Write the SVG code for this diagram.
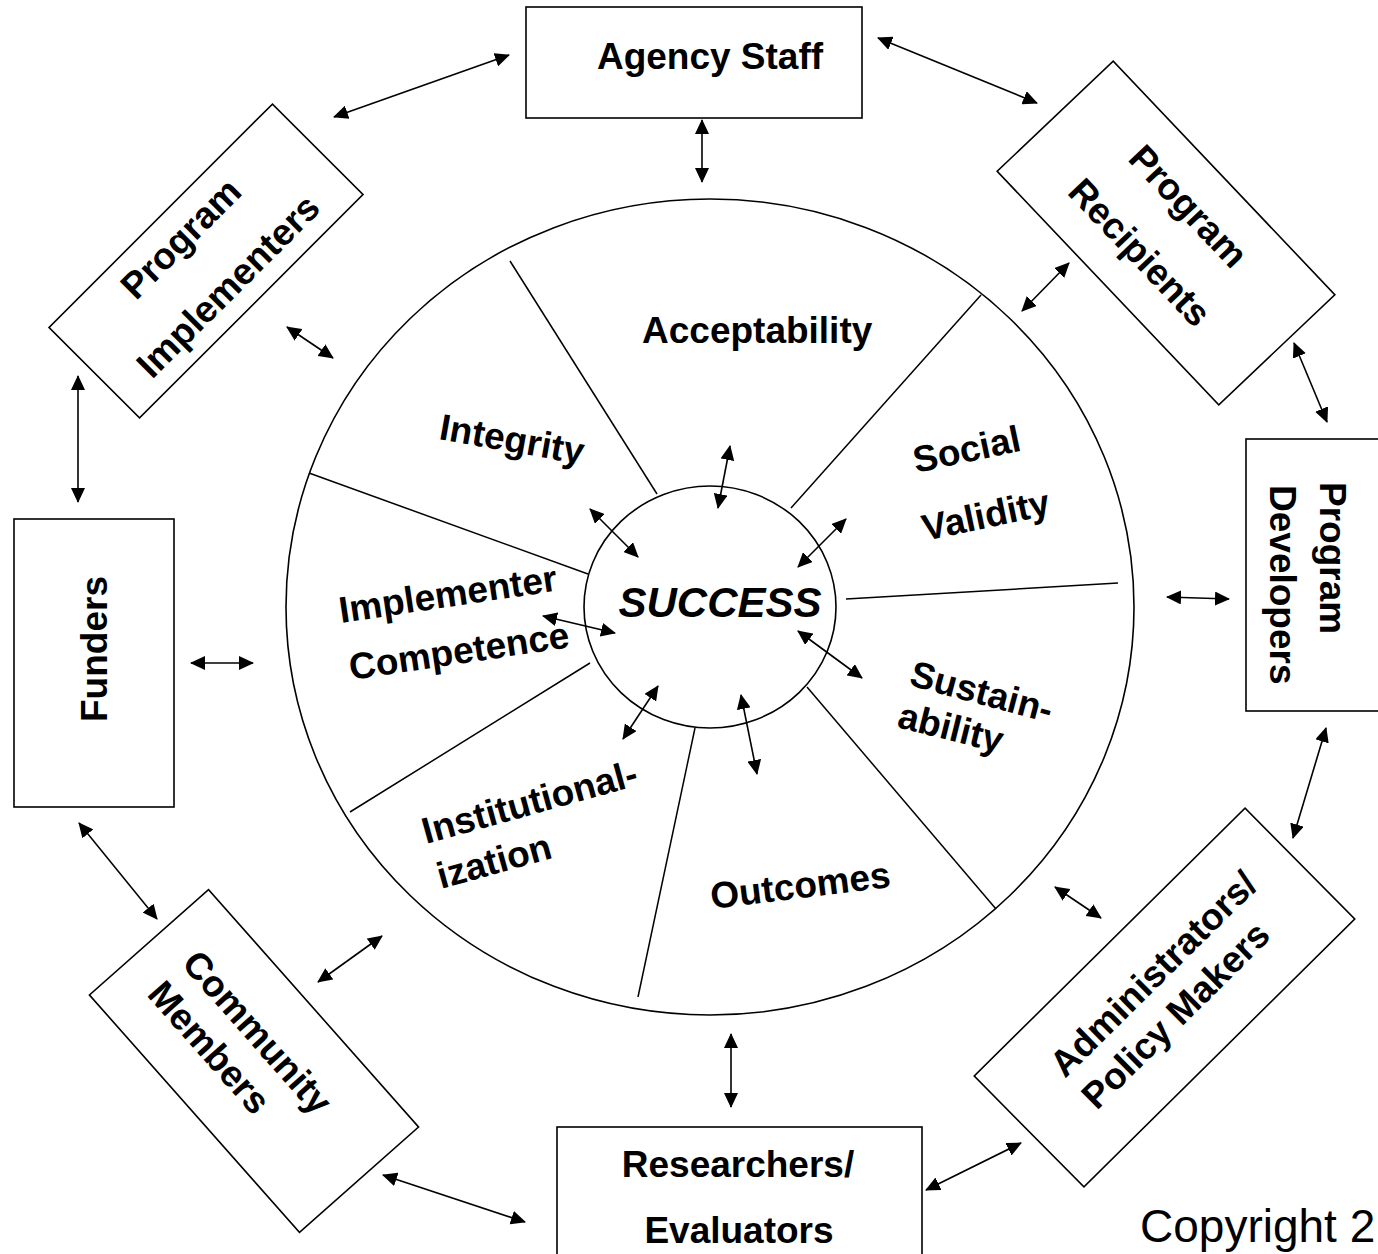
<svg xmlns="http://www.w3.org/2000/svg" width="1378" height="1254" viewBox="0 0 1378 1254">
<style>
.box{fill:#fff;stroke:#000;stroke-width:1.6}
.t{font-family:"Liberation Sans",Arial,sans-serif;font-weight:bold;font-size:37px;fill:#000}
.s{font-family:"Liberation Sans",Arial,sans-serif;font-weight:bold;font-size:37px;fill:#000}
.ring{fill:none;stroke:#000;stroke-width:1.6}
.spoke{stroke:#000;stroke-width:1.5}
.arr{stroke:#000;stroke-width:1.6;fill:none;marker-start:url(#ah);marker-end:url(#ah)}
</style>
<defs>
<marker id="ah" viewBox="0 0 15 14" refX="14" refY="7" markerWidth="15" markerHeight="14" markerUnits="userSpaceOnUse" orient="auto-start-reverse"><path d="M0,0 L15,7 L0,14 z" fill="#000"/></marker>
</defs>
<rect width="1378" height="1254" fill="#fff"/>

<g id="wheel">
<ellipse class="ring" cx="710" cy="607" rx="424" ry="408"/>
<line class="spoke" x1="510" y1="261" x2="657" y2="494"/>
<line class="spoke" x1="981" y1="295" x2="791" y2="508"/>
<line class="spoke" x1="846" y1="599" x2="1118" y2="583"/>
<line class="spoke" x1="807" y1="687" x2="996" y2="909"/>
<line class="spoke" x1="695" y1="728" x2="638" y2="997"/>
<line class="spoke" x1="590" y1="663" x2="350" y2="812"/>
<line class="spoke" x1="309" y1="473" x2="588" y2="574"/>
<text class="s" x="642" y="343">Acceptability</text>
<text class="s" transform="translate(438,439) rotate(10)">Integrity</text>
<text class="s" transform="translate(341,623) rotate(-8.5)">Implementer</text>
<text class="s" transform="translate(351,680) rotate(-8.5)">Competence</text>
<text class="s" transform="translate(426,844) rotate(-15.5)">Institutional-</text>
<text class="s" transform="translate(441,889) rotate(-15.5)">ization</text>
<text class="s" transform="translate(712,909) rotate(-7)">Outcomes</text>
<text class="s" transform="translate(908,685) rotate(15)">Sustain-</text>
<text class="s" transform="translate(896,727) rotate(14)">ability</text>
<text class="s" transform="translate(916,473) rotate(-12)">Social</text>
<text class="s" transform="translate(925,541) rotate(-12)">Validity</text>
</g>

<g id="success">
<ellipse class="ring" cx="710" cy="607" rx="126" ry="121"/>
<text x="720" y="617" text-anchor="middle" font-family="Liberation Sans, Arial, sans-serif" font-weight="bold" font-style="italic" font-size="42">SUCCESS</text>
</g>

<g id="agency-staff">
<rect class="box" x="526" y="7" width="336" height="111"/>
<text class="t" x="710" y="69" text-anchor="middle">Agency Staff</text>
</g>

<g id="program-implementers" transform="translate(206,261) rotate(-45)">
<rect class="box" x="-158" y="-64" width="316" height="128"/>
<text class="t" x="-2" y="-21" text-anchor="middle">Program</text>
<text class="t" x="-2" y="46" text-anchor="middle">Implementers</text>
</g>

<g id="program-recipients" transform="translate(1166,233) rotate(46.5)">
<rect class="box" x="-161" y="-80" width="322" height="160"/>
<text class="t" x="-4" y="-22" text-anchor="middle">Program</text>
<text class="t" x="-4" y="45" text-anchor="middle">Recipients</text>
</g>

<g id="program-developers">
<rect class="box" x="1246" y="439" width="150" height="272"/>
<text class="t" transform="translate(1320,482) rotate(90)">Program</text>
<text class="t" transform="translate(1270,485) rotate(90)">Developers</text>
</g>

<g id="funders">
<rect class="box" x="14" y="519" width="160" height="288"/>
<text class="t" transform="translate(107,722) rotate(-90)">Funders</text>
</g>

<g id="community-members" transform="translate(254,1061) rotate(48.5)">
<rect class="box" x="-158.5" y="-79.5" width="317" height="159"/>
<text class="t" x="-121" y="-9">Community</text>
<text class="t" x="-121" y="37">Members</text>
</g>

<g id="researchers-evaluators">
<rect class="box" x="557" y="1127" width="365" height="150"/>
<text class="t" x="738" y="1177" text-anchor="middle">Researchers/</text>
<text class="t" x="739" y="1243" text-anchor="middle">Evaluators</text>
</g>

<g id="administrators-policy-makers" transform="translate(1164.5,997.5) rotate(-44.7)">
<rect class="box" x="-190.5" y="-78" width="381" height="156"/>
<text class="t" x="-128" y="-12">Administrators/</text>
<text class="t" x="-128" y="33">Policy Makers</text>
</g>

<g id="connectors">
<line class="arr" x1="334" y1="117" x2="509" y2="55"/>
<line class="arr" x1="878" y1="38" x2="1037" y2="103"/>
<line class="arr" x1="702" y1="120" x2="702" y2="182"/>
<line class="arr" x1="1069" y1="263" x2="1022" y2="311"/>
<line class="arr" x1="1294" y1="343" x2="1327" y2="422"/>
<line class="arr" x1="1167" y1="597" x2="1229" y2="599"/>
<line class="arr" x1="1326" y1="728" x2="1293" y2="838"/>
<line class="arr" x1="1055" y1="887" x2="1101" y2="918"/>
<line class="arr" x1="1021" y1="1143" x2="926" y2="1190"/>
<line class="arr" x1="731" y1="1034" x2="731" y2="1107"/>
<line class="arr" x1="383" y1="1175" x2="525" y2="1222"/>
<line class="arr" x1="382" y1="936" x2="318" y2="982"/>
<line class="arr" x1="79" y1="823" x2="157" y2="919"/>
<line class="arr" x1="191" y1="663" x2="253" y2="663"/>
<line class="arr" x1="78" y1="376" x2="78" y2="502"/>
<line class="arr" x1="287" y1="327" x2="333" y2="358"/>
<line class="arr" x1="730" y1="446" x2="718" y2="508"/>
<line class="arr" x1="590" y1="509" x2="638" y2="557"/>
<line class="arr" x1="846" y1="519" x2="798" y2="567"/>
<line class="arr" x1="543" y1="616" x2="615" y2="633"/>
<line class="arr" x1="798" y1="631" x2="862" y2="678"/>
<line class="arr" x1="658" y1="686" x2="623" y2="739"/>
<line class="arr" x1="741" y1="695" x2="757" y2="774"/>
</g>

<text x="1140" y="1242" font-family="Liberation Sans, Arial, sans-serif" font-size="46" fill="#000">Copyright 2</text>
</svg>
